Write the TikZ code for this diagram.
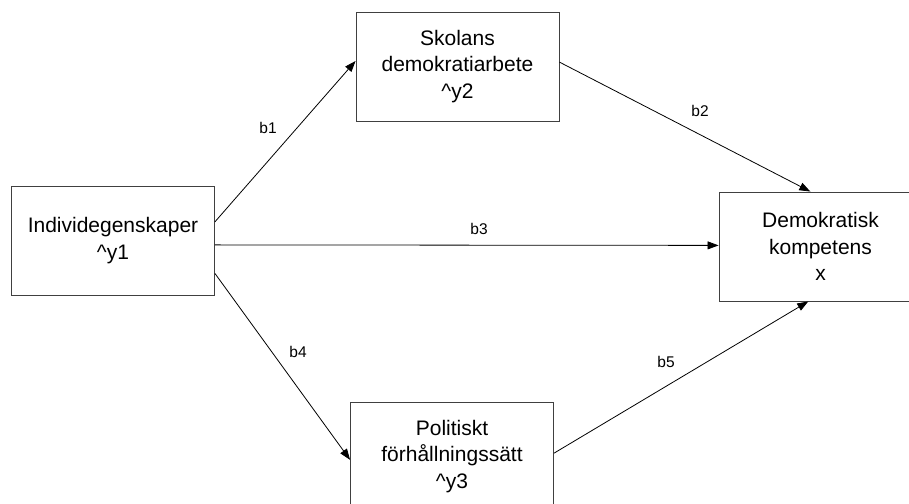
\documentclass[tikz,border=0pt]{standalone}
\usepackage{fontspec}
\setmainfont{Liberation Sans}
\usetikzlibrary{calc,arrows.meta}
\tikzset{
  var/.style={draw=black!75, line width=0.9bp, minimum width=203bp, minimum height=109bp,
    inner sep=0pt, align=center, font=\fontsize{21bp}{26.5bp}\selectfont},
  path/.style={draw=black, line width=0.8bp, -{Triangle[length=11bp,width=8bp]}},
  coef/.style={font=\fontsize{15.5bp}{18bp}\selectfont, inner sep=0pt}
}
\begin{document}
\begin{tikzpicture}[x=1bp,y=-1bp]
  \clip (0,0) rectangle (909,504);
  \fill[white] (0,0) rectangle (909,504);

  % variables
  \node[var] (ind) at (113,240.5) {Individegenskaper\\\^{}y1};
  \node[var] (sko) at (457.5,66.5) {Skolans\\demokratiarbete\\\^{}y2};
  \node[var] (dem) at (820.5,246.5) {Demokratisk\\kompetens\\x};
  \node[var] (pol) at (452,456.5) {Politiskt\\förhållningssätt\\\^{}y3};

  % paths between variables
  \draw[path] ($(ind.north east)!0.33!(ind.south east)$) -- ($(sko.north west)!0.45!(sko.south west)$);
  \draw[path] ($(sko.north east)!0.46!(sko.south east)$) -- ($(dem.north west)!0.45!(dem.north east)$);
  \draw[path] ($(ind.north east)!0.54!(ind.south east)$) -- ($(dem.north west)!0.49!(dem.south west)$);
  \draw[path] ($(ind.north east)!0.80!(ind.south east)$) -- ($(pol.north west)!0.53!(pol.south west)$);
  \draw[path] ($(pol.north east)!0.47!(pol.south east)$) -- ($(dem.south west)!0.44!(dem.south east)$);

  % path coefficients
  \node[coef] (b1) at (268,128) {b1};
  \node[coef] (b2) at (700,111) {b2};
  \node[coef] (b3) at (479,229) {b3};
  \node[coef] (b4) at (298,352) {b4};
  \node[coef] (b5) at (666,362) {b5};
\end{tikzpicture}
\end{document}
